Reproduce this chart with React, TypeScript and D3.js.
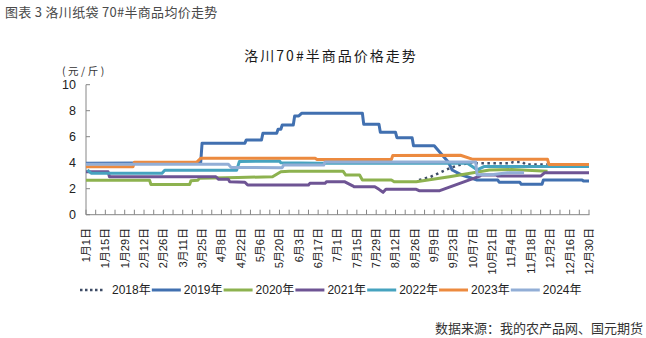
import React from "react";
import * as d3 from "d3";

// ---------- data ----------
const years = ["2018年", "2019年", "2020年", "2021年", "2022年", "2023年", "2024年"];
const colors = ["#3E4C66", "#4170B0", "#8DB24F", "#6E5494", "#46A3BF", "#EC8A3F", "#92AED6"];

const s2018: [string, number][] = [
  ["8-29", 2.67], ["9-6", 2.9], ["9-20", 3.57], ["9-27", 3.82], ["10-7", 4.05], ["10-8", 3.95],
  ["11-3", 3.95], ["11-5", 4.05], ["11-12", 4.05], ["11-14", 3.87], ["11-30", 3.87],
];
const s2019: [string, number][] = [
  ["1-1", 3.95], ["3-24", 4.0], ["3-25", 5.5], ["4-25", 5.5], ["4-26", 5.75], ["5-7", 5.75],
  ["5-8", 6.26], ["5-18", 6.26], ["5-19", 6.57], ["5-21", 6.57], ["5-22", 6.9], ["5-30", 6.9],
  ["5-31", 7.6], ["6-3", 7.6], ["6-5", 7.8], ["7-19", 7.8], ["7-20", 6.95], ["7-31", 6.95],
  ["8-1", 6.34], ["8-12", 6.34], ["8-13", 5.92], ["8-24", 5.92], ["8-25", 5.31], ["9-9", 5.31],
  ["9-19", 4.08], ["9-22", 3.44], ["9-29", 3.05], ["10-10", 2.67], ["10-25", 2.67], ["10-26", 2.49],
  ["11-10", 2.49], ["11-11", 2.34], ["11-26", 2.34], ["11-27", 2.67], ["12-25", 2.67], ["12-26", 2.59],
  ["12-30", 2.59],
];
const s2020: [string, number][] = [
  ["1-1", 2.65], ["2-16", 2.65], ["2-17", 2.33], ["3-16", 2.33], ["3-17", 2.62], ["3-22", 2.65],
  ["3-23", 2.8], ["4-20", 2.86], ["5-15", 2.92], ["5-21", 3.31], ["5-27", 3.35], ["7-5", 3.35],
  ["7-7", 3.05], ["7-17", 3.05], ["7-19", 2.67], ["8-9", 2.67], ["8-11", 2.54], ["8-27", 2.54],
  ["9-20", 2.92], ["10-19", 3.44], ["11-4", 3.47], ["11-30", 3.35],
];
const s2021: [string, number][] = [
  ["1-1", 3.3], ["1-17", 3.3], ["1-18", 2.92], ["4-4", 2.92], ["4-6", 2.72], ["4-13", 2.72],
  ["4-14", 2.54], ["4-25", 2.5], ["4-27", 2.28], ["6-10", 2.28], ["6-11", 2.41], ["6-22", 2.41],
  ["6-23", 2.54], ["7-6", 2.54], ["7-12", 2.22], ["7-13", 2.15], ["7-28", 2.15], ["7-31", 1.95],
  ["8-3", 1.72], ["8-5", 1.95], ["8-27", 1.95], ["8-29", 1.85], ["9-13", 1.85], ["10-12", 2.97],
  ["10-13", 3.05], ["10-24", 3.05], ["10-25", 2.97], ["11-25", 2.97], ["11-28", 3.23], ["12-30", 3.23],
];
const s2022: [string, number][] = [
  ["1-2", 3.44], ["1-5", 3.18], ["2-25", 3.18], ["2-27", 3.42], ["4-19", 3.42], ["4-21", 4.1],
  ["5-20", 4.13], ["5-21", 4.0], ["6-18", 3.95], ["10-3", 3.95], ["10-10", 3.45], ["10-15", 3.7],
  ["12-30", 3.7],
];
const s2023: [string, number][] = [
  ["1-1", 3.69], ["2-4", 3.69], ["2-5", 4.03], ["3-21", 4.03], ["3-24", 4.34], ["6-15", 4.34],
  ["6-16", 4.25], ["8-9", 4.25], ["8-10", 4.55], ["9-28", 4.57], ["10-7", 4.26], ["11-30", 4.26],
  ["12-1", 3.87], ["12-30", 3.87],
];
const s2024: [string, number][] = [
  ["1-1", 3.88], ["4-13", 3.88], ["4-15", 3.64], ["5-22", 3.62], ["5-23", 3.82], ["6-21", 3.82],
  ["6-22", 4.06], ["10-9", 4.06], ["10-10", 3.08], ["10-22", 3.1], ["11-1", 3.22], ["11-13", 3.22],
];
const seriesList = [s2018, s2019, s2020, s2021, s2022, s2023, s2024];
const yTicks = [0, 2, 4, 6, 8, 10];

const W = 646;
const H = 338;
const parse = (s: string) => {
  const [m, d] = s.split("-").map(Number);
  return new Date(2024, m - 1, d);
};
const start = new Date(2024, 0, 1);
const end = new Date(2024, 11, 30);
const NUM = "'Liberation Sans Narrow', 'Liberation Sans', Arial, 'Noto Sans CJK SC', sans-serif";
const CJK = "'Noto Sans CJK SC', 'Liberation Sans', sans-serif";

export default function App() {
  const x = d3.scaleTime().domain([start, end]).range([86, 589]);
  const y = d3.scaleLinear().domain([0, 10]).range([214.7, 84.7]);
  const line = d3
    .line<[string, number]>()
    .x((d) => x(parse(d[0])))
    .y((d) => y(d[1]));
  const weekTicks = d3.range(0, 365, 7).map((k) => d3.timeDay.offset(start, k));
  const labelTicks = d3.range(0, 365, 14).map((k) => d3.timeDay.offset(start, k));
  const axisColor = "#868686";
  const legendX = (i: number) => 80 + i * 71.8;

  return (
    <svg
      width={W}
      height={H}
      style={{ position: "absolute", left: 0, top: 0, background: "#fff" }}
    >
      <rect x={0} y={0} width={W} height={H} fill="#fff" />
      <text x={5} y={17} fontSize={13} fill="#4a4a4a" fontFamily={CJK} letterSpacing={0.3}>
        图表 3 洛川纸袋 70#半商品均价走势
      </text>
      <text x={331} y={61} fontSize={14} fill="#1a1a1a" fontFamily={CJK} textAnchor="middle" letterSpacing={2}>
        洛川70#半商品价格走势
      </text>
      <text x={62} y={75} fontSize={10.5} fill="#333" fontFamily={CJK} letterSpacing={2.5}>
        (元/斤)
      </text>

      {/* y axis */}
      <line x1={86} x2={86} y1={y(10)} y2={y(0)} stroke={axisColor} strokeWidth={1} />
      {yTicks.map((t) => (
        <g key={t}>
          <line x1={86} x2={90} y1={y(t)} y2={y(t)} stroke={axisColor} />
          <text x={76} y={y(t)} dy="0.36em" textAnchor="end" fontSize={12.5} fontFamily={NUM} fill="#222">
            {t}
          </text>
        </g>
      ))}

      {/* x axis */}
      <line x1={86} x2={589.5} y1={y(0)} y2={y(0)} stroke={axisColor} strokeWidth={1} />
      {weekTicks.map((t, i) => (
        <line key={i} x1={x(t)} x2={x(t)} y1={y(0)} y2={y(0) - 5} stroke={axisColor} />
      ))}
      {labelTicks.map((t, i) => (
        <text
          key={i}
          transform={`translate(${x(t)},228) rotate(-90)`}
          textAnchor="end"
          dy="0.35em"
          fontSize={11}
          fontFamily={NUM}
          fill="#222"
        >
          {`${t.getMonth() + 1}月${t.getDate()}日`}
        </text>
      ))}

      {/* series */}
      {seriesList.map((s, i) => (
        <path
          key={i}
          d={line(s) || ""}
          fill="none"
          stroke={colors[i]}
          strokeWidth={i === 0 ? 2.5 : 3}
          strokeDasharray={i === 0 ? "2.5,3.5" : undefined}
          strokeLinejoin="round"
        />
      ))}

      {/* legend */}
      {years.map((name, i) => (
        <g key={name}>
          <line
            x1={legendX(i)}
            x2={legendX(i) + (i === 0 ? 24 : 29)}
            y1={290}
            y2={290}
            stroke={colors[i]}
            strokeWidth={i === 0 ? 2.5 : 3}
            strokeDasharray={i === 0 ? "2.5,2.5" : undefined}
          />
          <text x={legendX(i) + 32} y={290} dy="0.36em" fontSize={12} fontFamily={NUM} fill="#222">
            {name}
          </text>
        </g>
      ))}

      <text x={643} y={333} textAnchor="end" fontSize={13} fill="#333" fontFamily={CJK}>
        数据来源：我的农产品网、国元期货
      </text>
    </svg>
  );
}
